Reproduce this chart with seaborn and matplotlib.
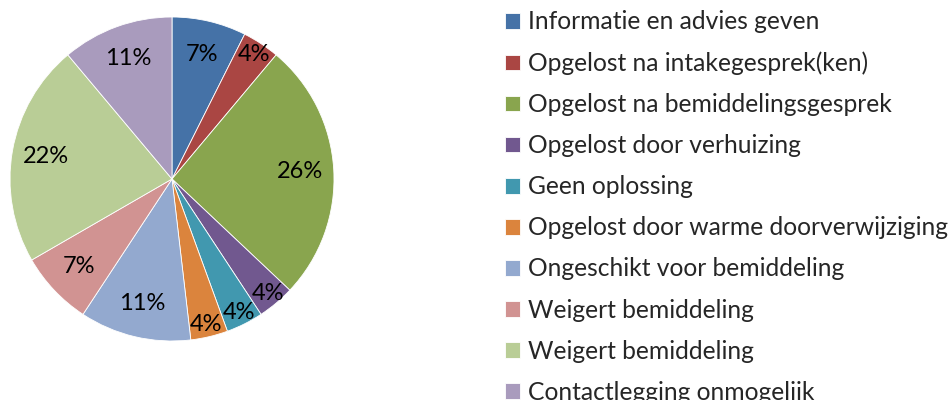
import numpy as np
import matplotlib
matplotlib.use("Agg")
import matplotlib.pyplot as plt
import seaborn as sns

categories = [
    "Informatie en advies geven",
    "Opgelost na intakegesprek(ken)",
    "Opgelost na bemiddelingsgesprek",
    "Opgelost door verhuizing",
    "Geen oplossing",
    "Opgelost door warme doorverwijziging",
    "Ongeschikt voor bemiddeling",
    "Weigert bemiddeling",
    "Weigert bemiddeling",
    "Contactlegging onmogelijk",
]
counts = [2, 1, 7, 1, 1, 1, 3, 2, 6, 3]
colors = ["#4572A7", "#AA4643", "#89A54E", "#71588F", "#4198AF",
          "#DB843D", "#93A9CF", "#D19392", "#B9CD96", "#A99BBD"]

sns.set_theme(style="white")
plt.rcParams["font.family"] = ["Lato", "DejaVu Sans"]

fig = plt.figure(figsize=(9.5, 4), dpi=100)
ax = fig.add_axes([10 / 950, 59 / 400, 324 / 950, 324 / 400])

wedges, texts, autotexts = ax.pie(
    counts,
    colors=sns.color_palette(colors),
    startangle=90,
    counterclock=False,
    autopct="%.0f%%",
    pctdistance=0.79,
    radius=1,
    wedgeprops={"edgecolor": "white", "linewidth": 0.6},
    textprops={"fontsize": 17, "color": "black"},
)

# kleine taartpunten: label verder naar buiten
total = sum(counts)
for w, t, c in zip(wedges, autotexts, counts):
    ang = np.deg2rad((w.theta1 + w.theta2) / 2)
    r = 0.92 if c / total < 0.05 else 0.79
    t.set_position((r * np.cos(ang), r * np.sin(ang)))

ax.set_xlim(-1, 1)
ax.set_ylim(-1, 1)
ax.set_aspect("equal")

fig.legend(
    wedges,
    categories,
    loc="upper left",
    bbox_to_anchor=(503 / 950, 1 - 8 / 400),
    frameon=False,
    fontsize=17.7,
    handlelength=0.61,
    handleheight=0.61,
    handletextpad=0.3,
    labelspacing=0.735,
    borderaxespad=0,
    borderpad=0.1,
)

fig.savefig("out.png", dpi=100)
